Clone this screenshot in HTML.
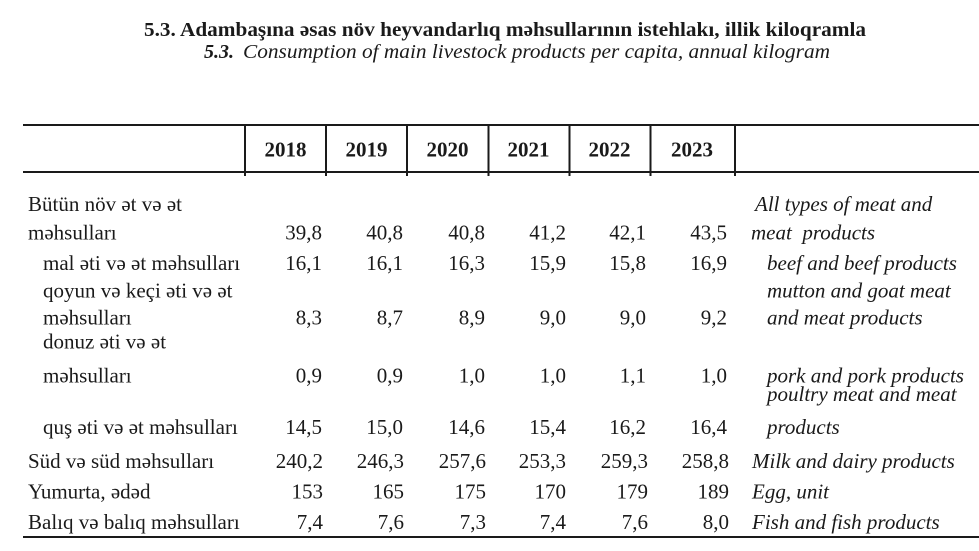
<!DOCTYPE html>
<html>
<head>
<meta charset="utf-8">
<style>
  html, body { margin: 0; padding: 0; background: #ffffff; }
  body { width: 979px; height: 551px; overflow: hidden; }
  svg { display: block; }
  text { font-family: "Liberation Serif", "DejaVu Serif", serif; fill: #1a1a1a; }
  .t { font-size: 21px; }
  .n { font-size: 21px; text-anchor: end; }
  .e { font-size: 21px; font-style: italic; }
  .y { font-size: 21px; font-weight: bold; text-anchor: middle; }
</style>
</head>
<body>
<svg width="979" height="551" viewBox="0 0 979 551" xmlns="http://www.w3.org/2000/svg">
  <!-- Titles -->
  <text x="144" y="36" font-size="20.5" font-weight="bold" textLength="722" lengthAdjust="spacingAndGlyphs">5.3. Adambaşına əsas növ heyvandarlıq məhsullarının istehlakı, illik kiloqramla</text>
  <text x="204" y="58" font-size="20" font-weight="bold" font-style="italic">5.3.</text>
  <text x="243" y="58" font-size="20" font-style="italic" textLength="587" lengthAdjust="spacingAndGlyphs">Consumption of main livestock products per capita, annual kilogram</text>

  <!-- Table lines -->
  <rect x="23" y="124" width="956" height="2" fill="#1a1a1a"/>
  <rect x="23" y="171" width="956" height="2" fill="#1a1a1a"/>
  <rect x="23" y="536" width="956" height="2" fill="#1a1a1a"/>
  <g fill="#1a1a1a">
    <rect x="244" y="125" width="2" height="51"/>
    <rect x="325" y="125" width="2" height="51"/>
    <rect x="406" y="125" width="2" height="51"/>
    <rect x="487.5" y="125" width="2" height="51"/>
    <rect x="568.5" y="125" width="2" height="51"/>
    <rect x="649.5" y="125" width="2" height="51"/>
    <rect x="734" y="125" width="2" height="51"/>
  </g>

  <!-- Header years -->
  <text class="y" x="285.5" y="156.5">2018</text>
  <text class="y" x="366.5" y="156.5">2019</text>
  <text class="y" x="447.5" y="156.5">2020</text>
  <text class="y" x="528.5" y="156.5">2021</text>
  <text class="y" x="609.5" y="156.5">2022</text>
  <text class="y" x="692" y="156.5">2023</text>

  <!-- Left labels -->
  <text class="t" x="28" y="211">Bütün növ ət və ət</text>
  <text class="t" x="28" y="239.5">məhsulları</text>
  <text class="t" x="43" y="270">mal əti və ət məhsulları</text>
  <text class="t" x="43" y="297.5">qoyun və keçi əti və ət</text>
  <text class="t" x="43" y="324.5">məhsulları</text>
  <text class="t" x="43" y="348.5">donuz əti və ət</text>
  <text class="t" x="43" y="382.5">məhsulları</text>
  <text class="t" x="43" y="434">quş əti və ət məhsulları</text>
  <text class="t" x="28" y="468">Süd və süd məhsulları</text>
  <text class="t" x="28" y="498.5">Yumurta, ədəd</text>
  <text class="t" x="28" y="529">Balıq və balıq məhsulları</text>

  <!-- Numbers -->
  <g>
    <text class="n" x="322" y="239.5">39,8</text>
    <text class="n" x="403" y="239.5">40,8</text>
    <text class="n" x="485" y="239.5">40,8</text>
    <text class="n" x="566" y="239.5">41,2</text>
    <text class="n" x="646" y="239.5">42,1</text>
    <text class="n" x="727" y="239.5">43,5</text>

    <text class="n" x="322" y="270">16,1</text>
    <text class="n" x="403" y="270">16,1</text>
    <text class="n" x="485" y="270">16,3</text>
    <text class="n" x="566" y="270">15,9</text>
    <text class="n" x="646" y="270">15,8</text>
    <text class="n" x="727" y="270">16,9</text>

    <text class="n" x="322" y="324.5">8,3</text>
    <text class="n" x="403" y="324.5">8,7</text>
    <text class="n" x="485" y="324.5">8,9</text>
    <text class="n" x="566" y="324.5">9,0</text>
    <text class="n" x="646" y="324.5">9,0</text>
    <text class="n" x="727" y="324.5">9,2</text>

    <text class="n" x="322" y="382.5">0,9</text>
    <text class="n" x="403" y="382.5">0,9</text>
    <text class="n" x="485" y="382.5">1,0</text>
    <text class="n" x="566" y="382.5">1,0</text>
    <text class="n" x="646" y="382.5">1,1</text>
    <text class="n" x="727" y="382.5">1,0</text>

    <text class="n" x="322" y="434">14,5</text>
    <text class="n" x="403" y="434">15,0</text>
    <text class="n" x="485" y="434">14,6</text>
    <text class="n" x="566" y="434">15,4</text>
    <text class="n" x="646" y="434">16,2</text>
    <text class="n" x="727" y="434">16,4</text>

    <text class="n" x="323" y="468">240,2</text>
    <text class="n" x="404" y="468">246,3</text>
    <text class="n" x="486" y="468">257,6</text>
    <text class="n" x="566" y="468">253,3</text>
    <text class="n" x="648" y="468">259,3</text>
    <text class="n" x="729" y="468">258,8</text>

    <text class="n" x="323" y="498.5">153</text>
    <text class="n" x="404" y="498.5">165</text>
    <text class="n" x="486" y="498.5">175</text>
    <text class="n" x="566" y="498.5">170</text>
    <text class="n" x="648" y="498.5">179</text>
    <text class="n" x="729" y="498.5">189</text>

    <text class="n" x="323" y="529">7,4</text>
    <text class="n" x="404" y="529">7,6</text>
    <text class="n" x="486" y="529">7,3</text>
    <text class="n" x="566" y="529">7,4</text>
    <text class="n" x="648" y="529">7,6</text>
    <text class="n" x="729" y="529">8,0</text>
  </g>

  <!-- English labels -->
  <text class="e" x="755" y="211">All types of meat and</text>
  <text class="e" x="751" y="239.5" xml:space="preserve">meat  products</text>
  <text class="e" x="767" y="270">beef and beef products</text>
  <text class="e" x="767" y="297.5">mutton and goat meat</text>
  <text class="e" x="767" y="324.5">and meat products</text>
  <text class="e" x="767" y="382.5">pork and pork products</text>
  <text class="e" x="767" y="401">poultry meat and meat</text>
  <text class="e" x="767" y="434">products</text>
  <text class="e" x="752" y="468">Milk and dairy products</text>
  <text class="e" x="752" y="498.5">Egg, unit</text>
  <text class="e" x="752" y="529">Fish and fish products</text>
</svg>
</body>
</html>
